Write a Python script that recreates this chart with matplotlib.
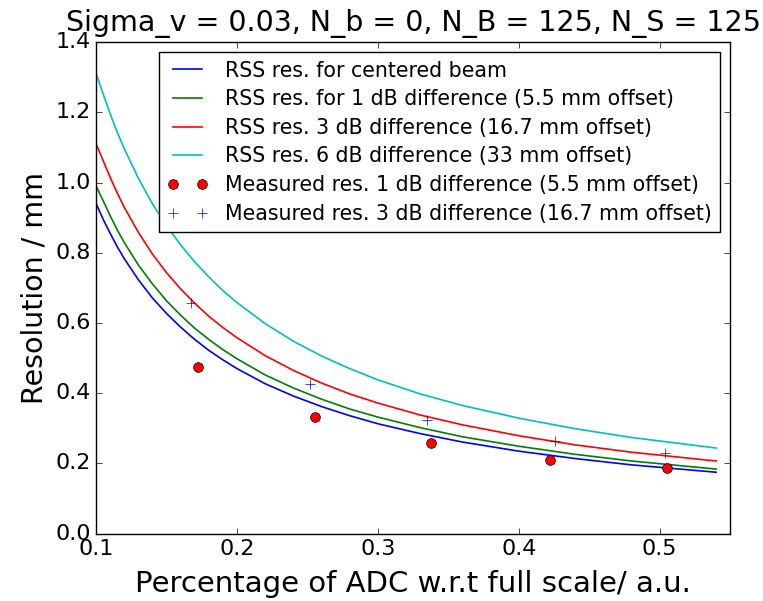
import matplotlib
matplotlib.use("Agg")
import matplotlib.pyplot as plt

plt.style.use("classic")

# -----------------------------
# DATA
# -----------------------------
x_curve = [0.10, 0.105, 0.11, 0.115, 0.12, 0.13, 0.14, 0.15, 0.16, 0.17, 0.18, 0.19,
           0.20, 0.22, 0.24, 0.26, 0.28, 0.30, 0.33, 0.36, 0.40, 0.44, 0.48, 0.54]

rss_centered = [0.940, 0.895, 0.855, 0.817, 0.783, 0.723, 0.671, 0.627, 0.588, 0.553, 0.522, 0.495,
                0.470, 0.427, 0.392, 0.362, 0.336, 0.313, 0.285, 0.261, 0.235, 0.214, 0.196, 0.175]
rss_1db = [0.990, 0.948, 0.905, 0.865, 0.829, 0.765, 0.711, 0.663, 0.622, 0.585, 0.553, 0.524,
           0.498, 0.452, 0.415, 0.383, 0.355, 0.332, 0.302, 0.276, 0.249, 0.226, 0.207, 0.184]
rss_3db = [1.110, 1.062, 1.014, 0.970, 0.929, 0.858, 0.796, 0.743, 0.697, 0.656, 0.619, 0.587,
           0.558, 0.507, 0.465, 0.429, 0.398, 0.372, 0.338, 0.310, 0.279, 0.253, 0.232, 0.207]
rss_6db = [1.310, 1.252, 1.195, 1.143, 1.096, 1.012, 0.939, 0.877, 0.822, 0.774, 0.731, 0.692,
           0.658, 0.598, 0.548, 0.506, 0.470, 0.438, 0.398, 0.365, 0.329, 0.299, 0.274, 0.244]

meas_1db_x = [0.172, 0.255, 0.338, 0.422, 0.505]
meas_1db_y = [0.475, 0.333, 0.259, 0.209, 0.186]

meas_3db_x = [0.167, 0.252, 0.335, 0.426, 0.504]
meas_3db_y = [0.658, 0.426, 0.323, 0.264, 0.230]

labels = [
    "RSS res. for centered beam",
    "RSS res. for 1 dB difference (5.5 mm offset)",
    "RSS res. 3 dB difference (16.7 mm offset)",
    "RSS res. 6 dB difference (33 mm offset)",
    "Measured res. 1 dB difference (5.5 mm offset)",
    "Measured res. 3 dB difference (16.7 mm offset)",
]

# -----------------------------
# PLOT
# -----------------------------
fig = plt.figure(figsize=(7.63, 6.01), dpi=100)
ax = fig.add_axes([0.126, 0.112, 0.831, 0.818])

ax.plot(x_curve, rss_centered, "b-", lw=1.2, label=labels[0])
ax.plot(x_curve, rss_1db, "g-", lw=1.2, label=labels[1])
ax.plot(x_curve, rss_3db, "r-", lw=1.2, label=labels[2])
ax.plot(x_curve, rss_6db, "c-", lw=1.2, label=labels[3])
ax.plot(meas_1db_x, meas_1db_y, "ro", ms=7, label=labels[4])
ax.plot(meas_3db_x, meas_3db_y, "b+", ms=7, label=labels[5])

ax.set_xlim(0.1, 0.55)
ax.set_ylim(0.0, 1.4)
ax.set_xticks([0.1, 0.2, 0.3, 0.4, 0.5])
ax.tick_params(labelsize=16)

ax.set_title("Sigma_v = 0.03, N_b = 0, N_B = 125, N_S = 125", fontsize=20.5, pad=8)
ax.set_xlabel("Percentage of ADC w.r.t full scale/ a.u.", fontsize=21, labelpad=8)
ax.set_ylabel("Resolution / mm", fontsize=20.5)

ax.legend(loc="upper right", fontsize=14.8, numpoints=2, labelspacing=0.42)

fig.savefig("out.png", dpi=100)
